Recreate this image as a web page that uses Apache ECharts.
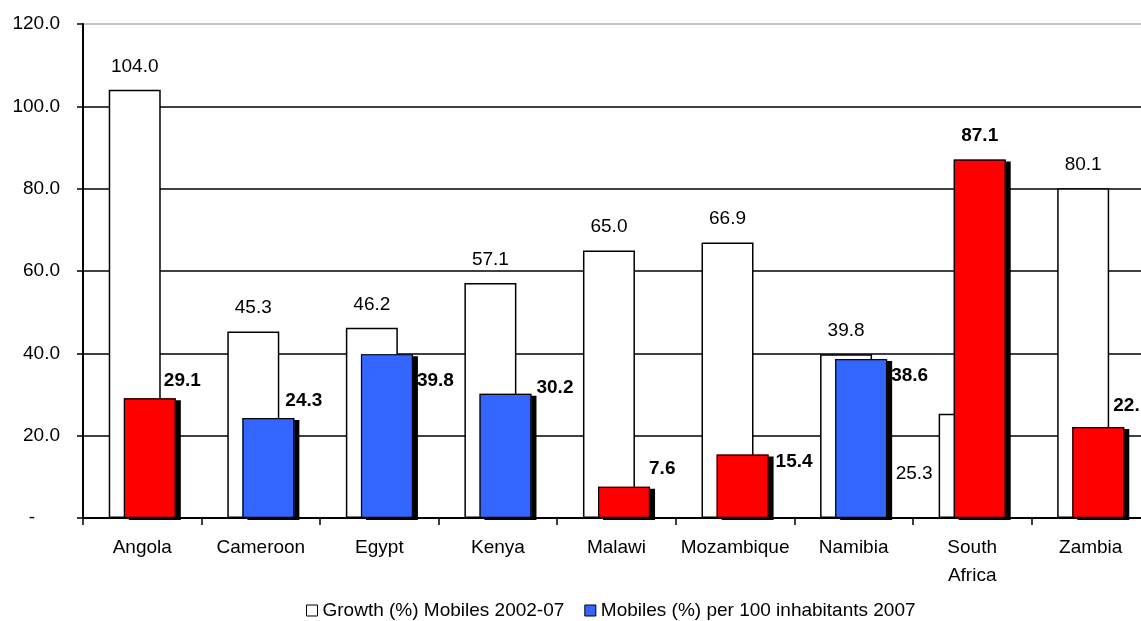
<!DOCTYPE html>
<html lang="en">
<head>
    <meta charset="UTF-8">
    <script src="https://cdn.jsdelivr.net/npm/echarts@6/dist/echarts.min.js"></script>
    <title>Mobiles</title>
    <style>
        *{
            margin: 0;
            padding: 0;
        }
        #chart{
            width: 1141px;
            height: 621px;
            background: #fff;
        }
    </style>
</head>
<body>
    <div id="chart"></div>
</body>
<script>
    var countries = ['Angola', 'Cameroon', 'Egypt', 'Kenya', 'Malawi', 'Mozambique', 'Namibia', 'South\nAfrica', 'Zambia'];
    var growth = [104.0, 45.3, 46.2, 57.1, 65.0, 66.9, 39.8, 25.3, 80.1];
    var mobiles = [29.1, 24.3, 39.8, 30.2, 7.6, 15.4, 38.6, 87.1, 22.1];
    var barColors = ['red', 'blue', 'blue', 'blue', 'red', 'red', 'blue', 'red', 'red'];
    var seriesNames = ['Growth (%) Mobiles 2002-07', 'Mobiles (%) per 100 inhabitants 2007'];

    // where Excel dropped the bold labels: [dx from bar left, dy from bar top]
    var labelSpots = [[40, -17], [43, -17], [56, 27], [57, -6], [51, -18], [59, 7], [56, 17], [26, -24], [41, -21]];

    var palette = {red: '#ff0000', blue: '#3366ff'};
    var font = 'Liberation Sans, Arial, sans-serif';
    var fs = 19;

    var chart = echarts.init(document.getElementById('chart'));

    var growthData = growth.map(function (v, i) {
        var item = {value: v};
        if (i === 7) {
            // the 25.3 label sits off to the left of its bar
            item.label = {position: [-43, 60], align: 'left', verticalAlign: 'middle'};
        }
        return item;
    });

    var mobileData = mobiles.map(function (v, i) {
        return {
            value: v,
            itemStyle: {color: palette[barColors[i]]},
            label: {
                position: labelSpots[i],
                align: i === 7 ? 'center' : 'left',
                verticalAlign: 'middle'
            }
        };
    });

    var option = {
        backgroundColor: '#fff',
        animation: false,
        textStyle: {fontFamily: font},
        // plot runs past the right edge, as in the original
        grid: {left: 83, right: -9, top: 24, bottom: 103, containLabel: false, outerBoundsMode: 'none'},
        legend: {
            left: 306,
            top: 601,
            padding: 0,
            itemWidth: 11,
            itemHeight: 11,
            itemGap: 20,
            icon: 'rect',
            textStyle: {fontSize: fs, color: '#000', fontFamily: font},
            itemStyle: {borderColor: '#000', borderWidth: 1, shadowBlur: 0, shadowOffsetX: 0, shadowOffsetY: 0, shadowColor: 'transparent'},
            data: seriesNames
        },
        xAxis: {
            type: 'category',
            data: countries,
            z: 5,
            axisLine: {lineStyle: {color: '#000', width: 2}},
            axisTick: {show: true, length: 7, lineStyle: {color: '#000', width: 1.5}},
            axisLabel: {fontSize: fs, color: '#000', margin: 16, lineHeight: 28, interval: 0}
        },
        yAxis: {
            type: 'value',
            min: 0,
            max: 120,
            interval: 20,
            axisLine: {show: true, lineStyle: {color: '#000', width: 2}},
            axisTick: {show: true, length: 6, lineStyle: {color: '#000', width: 1.5}},
            axisLabel: {
                fontSize: fs,
                color: '#000',
                margin: 23,
                formatter: function (v) {
                    return v === 0 ? '{d|-}' : v.toFixed(1);
                },
                rich: {d: {fontSize: fs, padding: [0, 25, 0, 0]}}
            },
            splitLine: {
                show: true,
                lineStyle: {color: ['#000', '#000', '#000', '#000', '#000', '#000', '#b4b4b4'], width: 1.5}
            }
        },
        series: [
            {
                name: seriesNames[0],
                type: 'bar',
                barWidth: 52,
                barGap: '-71%',
                itemStyle: {color: '#fff', borderColor: '#000', borderWidth: 1.5},
                label: {
                    show: true,
                    position: 'top',
                    distance: 14,
                    fontSize: fs,
                    color: '#000',
                    formatter: function (p) { return p.value.toFixed(1); }
                },
                data: growthData
            },
            {
                // fill + drop shadow, no outline (the outline's shadow would show through)
                name: seriesNames[1],
                type: 'bar',
                stack: 'mob',
                barWidth: 52,
                itemStyle: {
                    color: palette.blue,
                    borderWidth: 0,
                    shadowColor: '#000',
                    shadowBlur: 0,
                    shadowOffsetX: 5,
                    shadowOffsetY: 2
                },
                label: {
                    show: true,
                    fontSize: fs,
                    fontWeight: 'bold',
                    color: '#000',
                    formatter: function (p) { return p.value.toFixed(1); }
                },
                data: mobileData
            },
            {
                // outline drawn over the same column, not stacked on it
                name: 'outline',
                type: 'bar',
                stack: 'mob',
                stackStrategy: 'negative',
                barWidth: 52,
                silent: true,
                itemStyle: {color: 'rgba(0,0,0,0)', borderColor: '#000', borderWidth: 1.2},
                data: mobiles
            }
        ]
    };

    chart.setOption(option);
</script>
</html>
